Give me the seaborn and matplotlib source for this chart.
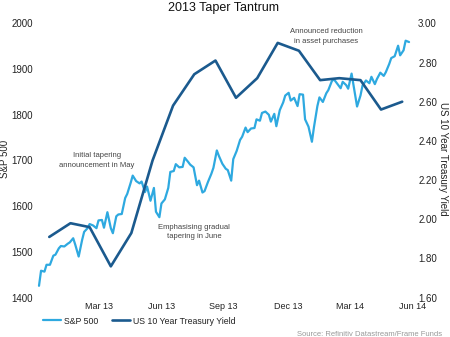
import matplotlib
matplotlib.use("Agg")
import matplotlib.pyplot as plt
import matplotlib.dates as mdates
import seaborn as sns
import pandas as pd
import numpy as np

# ---- data ----
sp500 = [
    1426, 1459, 1457, 1472, 1472, 1492, 1494, 1508,
    1513, 1512, 1518, 1521, 1530, 1516, 1490,
    1526, 1544, 1552, 1561, 1558, 1552, 1569,
    1570, 1553, 1587, 1552, 1541, 1578, 1582,
    1583, 1618, 1627, 1651, 1667, 1655, 1650, 1654,
    1631, 1643, 1612, 1640, 1588, 1576, 1606,
    1615, 1640, 1675, 1677, 1692, 1685, 1686,
    1706, 1697, 1691, 1685, 1646, 1656, 1630, 1633,
    1653, 1671, 1684, 1722, 1710, 1693, 1682,
    1679, 1656, 1703, 1721, 1745, 1752, 1772,
    1762, 1770, 1771, 1790, 1787, 1804, 1807,
    1800, 1785, 1802, 1775, 1810, 1827, 1842, 1848,
    1831, 1837, 1819, 1845, 1844, 1790, 1774,
    1741, 1773, 1819, 1838, 1828, 1847, 1854,
    1873, 1878, 1868, 1858, 1872, 1865, 1857,
    1890, 1845, 1818, 1842, 1864, 1875, 1869,
    1883, 1867, 1878, 1892, 1885, 1893, 1911, 1924,
    1928, 1951, 1930, 1941, 1962, 1959,
]
ust10y = [1.91, 1.98, 1.96, 1.76, 1.93, 2.30, 2.58, 2.74, 2.81, 2.62, 2.72, 2.90,
          2.86, 2.71, 2.72, 2.71, 2.56, 2.60]
tick_dates = ["2013-03-29", "2013-06-28", "2013-09-27", "2013-12-31", "2014-03-31", "2014-06-30"]
tick_labels = ["Mar 13", "Jun 13", "Sep 13", "Dec 13", "Mar 14", "Jun 14"]
left_ticks = [1400, 1500, 1600, 1700, 1800, 1900, 2000]
right_ticks = [1.60, 1.80, 2.00, 2.20, 2.40, 2.60, 2.80, 3.00]

sp_df = pd.DataFrame({
    "date": pd.bdate_range("2012-12-31", periods=len(sp500), freq="3B"),
    "value": sp500,
})
ust_df = pd.DataFrame({
    "date": pd.date_range("2013-01-01", periods=len(ust10y), freq="MS") + pd.Timedelta(days=14),
    "value": ust10y,
})

# ---- style ----
sns.set_style("white")
plt.rcParams["font.family"] = ["Liberation Sans", "DejaVu Sans"]

C_SP = "#2EA9E0"
C_UST = "#1B5A8E"
TXT = "#222222"

fig = plt.figure(figsize=(4.5, 3.37), dpi=100)
ax = fig.add_axes([0.08, 1 - 297.7 / 337, 0.84, (297.7 - 23.3) / 337])
ax2 = ax.twinx()

sns.lineplot(data=sp_df, x="date", y="value", ax=ax, color=C_SP, linewidth=1.6, label="S&P 500", legend=False)
sns.lineplot(data=ust_df, x="date", y="value", ax=ax2, color=C_UST, linewidth=1.9,
             label="US 10 Year Treasury Yield", legend=False)

base = mdates.date2num(pd.Timestamp("2012-12-31"))
ppd = 0.684
ax.set_xlim(base - 3 / ppd, base + 375 / ppd)
ax.set_ylim(1400, 2000)
ax2.set_ylim(1.60, 3.00)

ax.set_xticks([mdates.date2num(pd.Timestamp(d)) for d in tick_dates])
ax.set_xticklabels(tick_labels)
ax.set_yticks(left_ticks)
ax.set_yticklabels([str(v) for v in left_ticks])
ax2.set_yticks(right_ticks)
ax2.set_yticklabels([f"{v:.2f}" for v in right_ticks])

for a in (ax, ax2):
    for s in a.spines.values():
        s.set_visible(False)
    a.grid(False)
ax.tick_params(axis="x", length=0, pad=3, labelsize=6.5, colors=TXT)
ax.tick_params(axis="y", length=0, pad=2, labelsize=7, colors=TXT)
ax2.tick_params(axis="y", length=0, pad=3, labelsize=7, colors=TXT)

ax.set_xlabel("")
ax.set_ylabel("")
ax2.set_ylabel("")
fig.text(5.5 / 450, 1 - 159 / 337, "S&P 500", rotation=90, ha="center", va="center", fontsize=7, color=TXT)
fig.text(443 / 450, 1 - 159 / 337, "US 10 Year Treasury Yield", rotation=270, ha="center", va="center",
         fontsize=7, color=TXT)

fig.text(224 / 450, 1 - 8 / 337, "2013 Taper Tantrum", ha="center", va="center", fontsize=9, color="#111111")

ann = dict(ha="center", va="center", fontsize=5.5, color="#444444", linespacing=1.45)
fig.text(97 / 450, 1 - 160.5 / 337, "Initial tapering\nannouncement in May", **ann)
fig.text(194 / 450, 1 - 232 / 337, "Emphasising gradual\ntapering in June", **ann)
fig.text(326 / 450, 1 - 36.5 / 337, "Announced reduction\nin asset purchases", **ann)

h1, l1 = ax.get_legend_handles_labels()
h2, l2 = ax2.get_legend_handles_labels()
fig.legend(h1 + h2, l1 + l2, loc="center left", bbox_to_anchor=(43 / 450, 1 - 321 / 337), ncol=2,
           frameon=False, fontsize=6.3, handlelength=2.1, handletextpad=0.35, columnspacing=1.5,
           borderpad=0, borderaxespad=0, labelcolor=TXT)

fig.text(442 / 450, 1 - 334 / 337, "Source: Refinitiv Datastream/Frame Funds", ha="right", va="center",
         fontsize=5.5, color="#999999")

fig.savefig("out.png", dpi=100)
